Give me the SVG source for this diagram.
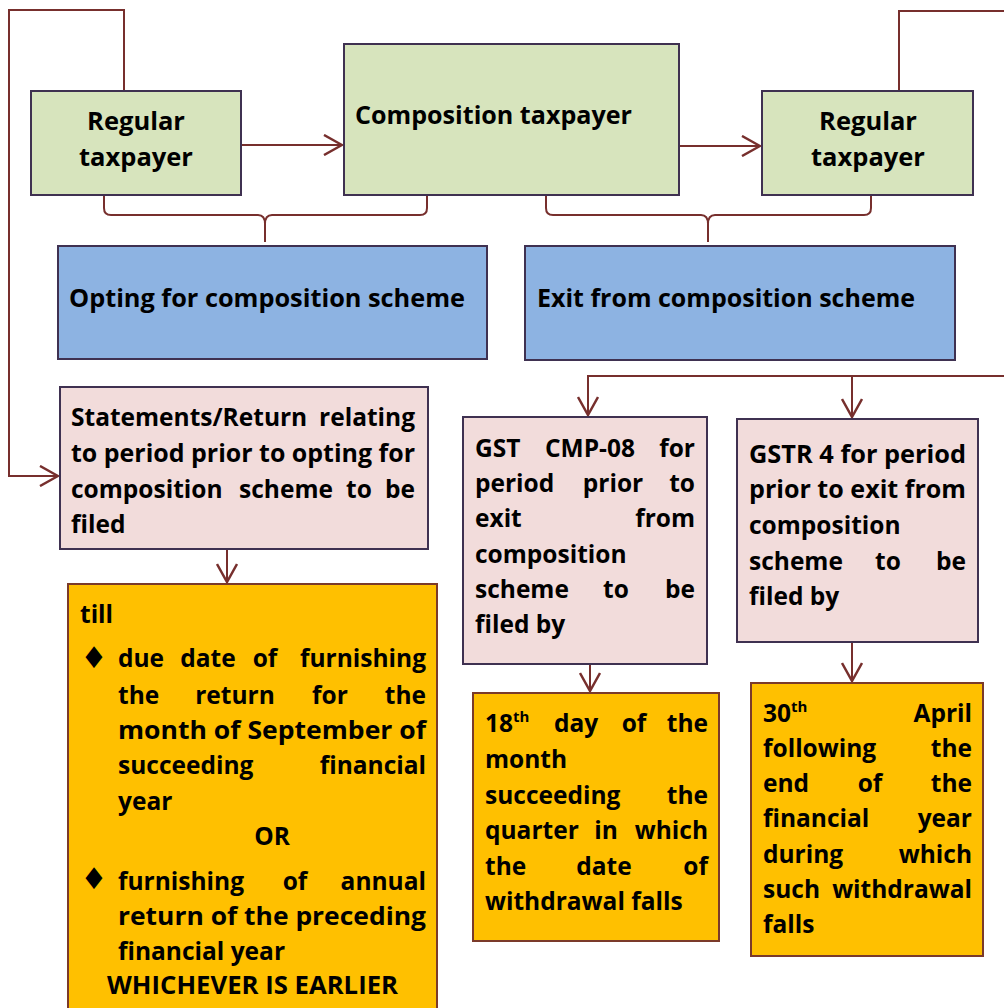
<svg xmlns="http://www.w3.org/2000/svg" width="1004" height="1008" viewBox="0 0 1004 1008">
<style>
.t{font-family:"Open Sans","Noto Sans","DejaVu Sans",sans-serif;font-weight:700;font-size:24.5px;fill:#000}
.h{font-size:25.5px}
.e{text-anchor:end}
.m{text-anchor:middle}
.sup{font-size:15px}
.g{fill:#D7E4BD;stroke:#3F3151;stroke-width:2}
.b{fill:#8DB3E2;stroke:#3F3151;stroke-width:2}
.p{fill:#F2DCDB;stroke:#3F3151;stroke-width:2}
.o{fill:#FFC000;stroke:#7B3A2A;stroke-width:2}
.c{fill:none;stroke:#772F2D;stroke-width:2}
.bul{font-family:"DejaVu Sans",sans-serif;font-size:30px;fill:#000;text-anchor:middle}
</style>
<defs>
<marker id="arr" viewBox="0 0 20 22" refX="19" refY="11" markerWidth="20" markerHeight="22" markerUnits="userSpaceOnUse" orient="auto">
<path d="M1,1 L19,11 L1,21" fill="none" stroke="#772F2D" stroke-width="2.5"/>
</marker>
</defs>
<rect width="1004" height="1008" fill="#fff"/>

<g id="connectors">
<path class="c" d="M124,91 V10 H9 V476 H58" marker-end="url(#arr)"/>
<path class="c" d="M899,91 V11 H1006"/>
<path class="c" d="M241,145 H342" marker-end="url(#arr)"/>
<path class="c" d="M679,146 H760" marker-end="url(#arr)"/>
<path class="c" d="M104,196 V208 Q104,215 111,215 H258 Q265,215 265,224 V242 M265,224 Q265,215 272,215 H420 Q427,215 427,208 V196"/>
<path class="c" d="M546,196 V208 Q546,215 553,215 H701 Q708,215 708,224 V242 M708,224 Q708,215 715,215 H864 Q871,215 871,208 V196"/>
<path class="c" d="M1006,376 H588 V415" marker-end="url(#arr)"/>
<path class="c" d="M852,376 V417" marker-end="url(#arr)"/>
<path class="c" d="M227,548 V582" marker-end="url(#arr)"/>
<path class="c" d="M590,664 V691" marker-end="url(#arr)"/>
<path class="c" d="M852,642 V681" marker-end="url(#arr)"/>
</g>

<g id="regular-left">
<rect class="g" x="31" y="91" width="210" height="104"/>
<text class="t h m" x="136" y="130">Regular</text>
<text class="t h m" x="136" y="166">taxpayer</text>
</g>

<g id="composition">
<rect class="g" x="344" y="44" width="335" height="151"/>
<text class="t" x="355" y="124" textLength="277" lengthAdjust="spacingAndGlyphs">Composition taxpayer</text>
</g>

<g id="regular-right">
<rect class="g" x="762" y="91" width="211" height="104"/>
<text class="t h m" x="868" y="130">Regular</text>
<text class="t h m" x="868" y="166">taxpayer</text>
</g>

<g id="opting">
<rect class="b" x="58" y="246" width="429" height="113"/>
<text class="t" x="69" y="307" textLength="396" lengthAdjust="spacingAndGlyphs">Opting for composition scheme</text>
</g>

<g id="exit">
<rect class="b" x="525" y="246" width="430" height="114"/>
<text class="t" x="537" y="307" textLength="378" lengthAdjust="spacingAndGlyphs">Exit from composition scheme</text>
</g>

<g id="statements">
<rect class="p" x="60" y="387" width="368" height="162"/>
<text class="t" x="71" y="426">Statements/Return</text>
<text class="t e" x="415" y="426">relating</text>
<text class="t" x="71" y="462" textLength="344" lengthAdjust="spacingAndGlyphs">to period prior to opting for</text>
<text class="t" x="71" y="498">composition</text>
<text class="t m" x="286" y="498">scheme</text>
<text class="t m" x="359" y="498">to</text>
<text class="t e" x="415" y="498">be</text>
<text class="t" x="71" y="533">filed</text>
</g>

<g id="till">
<rect class="o" x="68" y="584" width="369" height="440"/>
<text class="t" x="80" y="623">till</text>
<text class="bul" x="94" y="668">♦</text>
<text class="t" x="118" y="667">due</text>
<text class="t m" x="208" y="667">date</text>
<text class="t m" x="265" y="667">of</text>
<text class="t e" x="426" y="667">furnishing</text>
<text class="t" x="118" y="704">the</text>
<text class="t m" x="235" y="704">return</text>
<text class="t m" x="330" y="704">for</text>
<text class="t e" x="426" y="704">the</text>
<text class="t" x="118" y="739" textLength="308" lengthAdjust="spacingAndGlyphs">month of September of</text>
<text class="t" x="118" y="774">succeeding</text>
<text class="t e" x="426" y="774">financial</text>
<text class="t" x="118" y="810">year</text>
<text class="t m" x="272" y="845">OR</text>
<text class="bul" x="94" y="889">♦</text>
<text class="t" x="118" y="890">furnishing</text>
<text class="t m" x="295" y="890">of</text>
<text class="t e" x="426" y="890">annual</text>
<text class="t" x="118" y="925" textLength="308" lengthAdjust="spacingAndGlyphs">return of the preceding</text>
<text class="t" x="118" y="960">financial year</text>
<text class="t" x="107" y="994" textLength="291" lengthAdjust="spacingAndGlyphs">WHICHEVER IS EARLIER</text>
</g>

<g id="cmp08">
<rect class="p" x="463" y="417" width="244" height="247"/>
<text class="t" x="475" y="457">GST</text>
<text class="t m" x="590" y="457">CMP-08</text>
<text class="t e" x="695" y="457">for</text>
<text class="t" x="475" y="492">period</text>
<text class="t m" x="613" y="492">prior</text>
<text class="t e" x="695" y="492">to</text>
<text class="t" x="475" y="527">exit</text>
<text class="t e" x="695" y="527">from</text>
<text class="t" x="475" y="563">composition</text>
<text class="t" x="475" y="598">scheme</text>
<text class="t m" x="616" y="598">to</text>
<text class="t e" x="695" y="598">be</text>
<text class="t" x="475" y="633">filed by</text>
</g>

<g id="gstr4">
<rect class="p" x="737" y="419" width="241" height="223"/>
<text class="t" x="749" y="463" textLength="217" lengthAdjust="spacingAndGlyphs">GSTR 4 for period</text>
<text class="t" x="749" y="498" textLength="217" lengthAdjust="spacingAndGlyphs">prior to exit from</text>
<text class="t" x="749" y="534">composition</text>
<text class="t" x="749" y="570">scheme</text>
<text class="t m" x="888" y="570">to</text>
<text class="t e" x="966" y="570">be</text>
<text class="t" x="749" y="605">filed by</text>
</g>

<g id="day18">
<rect class="o" x="473" y="693" width="246" height="248"/>
<text class="t" x="485" y="732">18<tspan class="sup" dy="-10">th</tspan></text>
<text class="t m" x="576" y="732">day</text>
<text class="t m" x="634" y="732">of</text>
<text class="t e" x="708" y="732">the</text>
<text class="t" x="485" y="768">month</text>
<text class="t" x="485" y="804">succeeding</text>
<text class="t e" x="708" y="804">the</text>
<text class="t" x="485" y="839">quarter</text>
<text class="t m" x="606" y="839">in</text>
<text class="t e" x="708" y="839">which</text>
<text class="t" x="485" y="875">the</text>
<text class="t m" x="604" y="875">date</text>
<text class="t e" x="708" y="875">of</text>
<text class="t" x="485" y="910">withdrawal falls</text>
</g>

<g id="april30">
<rect class="o" x="751" y="683" width="232" height="273"/>
<text class="t" x="763" y="722">30<tspan class="sup" dy="-10">th</tspan></text>
<text class="t e" x="972" y="722">April</text>
<text class="t" x="763" y="757">following</text>
<text class="t e" x="972" y="757">the</text>
<text class="t" x="763" y="792">end</text>
<text class="t m" x="870" y="792">of</text>
<text class="t e" x="972" y="792">the</text>
<text class="t" x="763" y="827">financial</text>
<text class="t e" x="972" y="827">year</text>
<text class="t" x="763" y="863">during</text>
<text class="t e" x="972" y="863">which</text>
<text class="t" x="763" y="898">such</text>
<text class="t e" x="972" y="898">withdrawal</text>
<text class="t" x="763" y="933">falls</text>
</g>
</svg>
